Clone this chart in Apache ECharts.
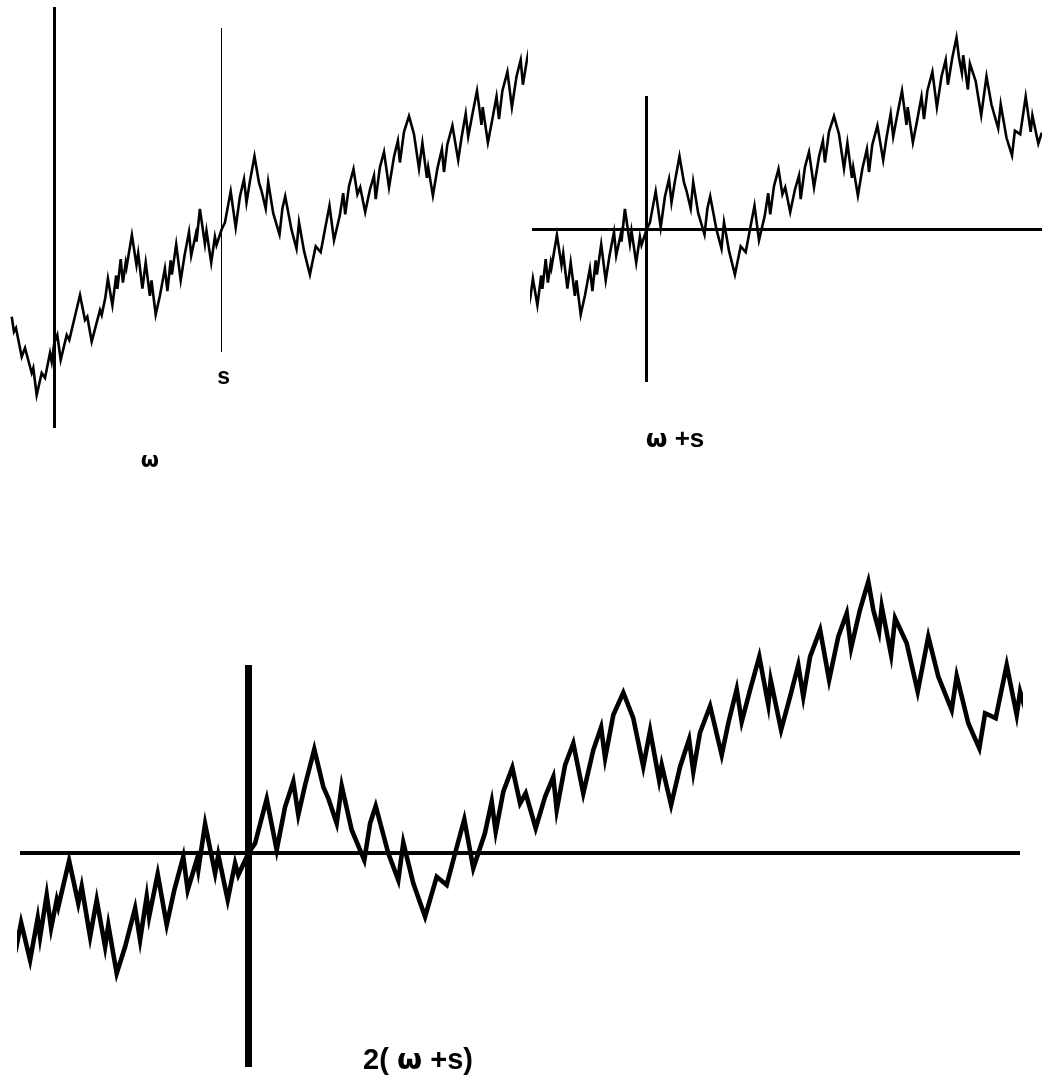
<!DOCTYPE html>
<html>
<head>
<meta charset="utf-8">
<script src="https://cdn.jsdelivr.net/npm/echarts@6/dist/echarts.min.js"></script>
<style>
  html, body { margin: 0; padding: 0; background: #fff; }
  #chart { width: 1042px; height: 1082px; }
</style>
</head>
<body>
<div id="chart"></div>
<script>
// Sample path ω(t): turning points of the zigzag, in time order.
const times = [
  -0.426, -0.403, -0.383, -0.326, -0.293, -0.226, -0.21, -0.176, -0.126, -0.093,
  -0.043, -0.026, 0, 0.03, 0.064, 0.124, 0.15, 0.257, 0.307, 0.33,
  0.374, 0.457, 0.474, 0.51, 0.536, 0.581, 0.619, 0.631, 0.664, 0.686,
  0.714, 0.722, 0.776, 0.822, 0.839, 0.881, 0.914, 0.956, 0.972, 1.014,
  1.056, 1.106, 1.131, 1.164, 1.176, 1.219, 1.264, 1.302, 1.347, 1.369,
  1.414, 1.422, 1.456, 1.506, 1.522, 1.569, 1.606, 1.622, 1.674, 1.706,
  1.764, 1.814, 1.856, 1.897, 1.922, 1.956, 2.002, 2.047, 2.072, 2.114,
  2.139, 2.189, 2.252, 2.281, 2.309, 2.372, 2.422, 2.447, 2.497, 2.556,
  2.614, 2.664, 2.706, 2.752, 2.797, 2.855, 2.889, 2.909, 2.947, 2.992,
  3.031, 3.059, 3.109, 3.156, 3.197, 3.214, 3.256, 3.297, 3.347, 3.397,
  3.436, 3.456, 3.497, 3.547, 3.597, 3.647, 3.681, 3.726, 3.739, 3.786,
  3.831, 3.876, 3.897, 3.93, 3.981, 4.039, 4.072, 4.114, 4.139, 4.181,
  4.227, 4.272, 4.284, 4.336, 4.381, 4.422, 4.447, 4.481, 4.531, 4.576,
  4.622, 4.664, 4.686, 4.73, 4.772, 4.797, 4.826, 4.839, 4.886, 4.906,
  4.964, 5.019, 5.072, 5.122, 5.189, 5.214, 5.272, 5.327, 5.356, 5.409,
  5.464, 5.514, 5.531, 5.59, 5.625
];
const values = [
  0.26, 0.11, 0.147, -0.14, -0.053, -0.303, -0.253, -0.523, -0.303, -0.353,
  -0.103, -0.19, 0, 0.077, -0.173, 0.077, 0.027, 0.477, 0.227, 0.26,
  0.01, 0.327, 0.277, 0.45, 0.64, 0.375, 0.672, 0.538, 0.835, 0.601,
  0.799, 0.752, 1.077, 0.776, 0.894, 0.54, 0.8, 0.469, 0.623, 0.281,
  0.469, 0.741, 0.517, 0.823, 0.681, 0.983, 0.623, 0.87, 1.106, 0.87,
  1.082, 1.012, 1.337, 0.988, 1.118, 0.8, 1.059, 0.976, 1.134, 1.2,
  1.514, 1.153, 1.459, 1.636, 1.401, 1.613, 1.865, 1.6, 1.519, 1.342,
  1.606, 1.295, 1.082, 1.342, 1.464, 1.13, 0.941, 1.205, 0.918, 0.681,
  0.964, 0.906, 1.13, 1.37, 1.024, 1.271, 1.495, 1.283, 1.565, 1.735,
  1.483, 1.554, 1.307, 1.53, 1.671, 1.436, 1.754, 1.908, 1.554, 1.86,
  2.021, 1.802, 2.108, 2.266, 2.085, 1.742, 1.997, 1.648, 1.754, 1.471,
  1.742, 1.936, 1.707, 1.98, 2.171, 1.825, 2.049, 2.29, 2.06, 2.285,
  2.52, 2.179, 2.355, 2.002, 2.237, 2.461, 2.237, 2.52, 2.709, 2.355,
  2.662, 2.827, 2.58, 2.85, 3.051, 2.85, 2.697, 2.874, 2.532, 2.792,
  2.615, 2.273, 2.662, 2.379, 2.143, 2.384, 2.049, 1.872, 2.12, 2.085,
  2.461, 2.108, 2.273, 1.99, 2.1
];

// The shift time s and the level ω(s) the path reaches there.
const S = 1.674;
const wS = values[times.indexOf(S)];

// Caption texts
const captions = ['ω', 'ω +s', '2( ω +s)'];
const sLabel = 's';

const path = times.map((t, i) => [t, values[i]]);

// Axis window for a grid: pixel box, the pixel spot of data point (t0, v0),
// and pixels per unit along each axis.
function frame(left, top, width, height, ox, oy, kx, ky, t0, v0) {
  return {
    grid: { left, top, width, height },
    x: { min: t0 + (left - ox) / kx, max: t0 + (left + width - ox) / kx },
    y: { min: v0 - (top + height - oy) / ky, max: v0 + (oy - top) / ky }
  };
}

const f1 = frame(10, 0, 516, 440, 54.3, 342.7, 100, 100, 0, 0);          // ω
const f2 = frame(532, 0, 510, 440, 646.7, 229.3, 100, 100, S, wS);       // ω + s
const f3 = frame(20, 570, 1000, 510, 248.7, 852.7, 200, 100 * Math.SQRT2, S, wS); // 2(ω + s)
const frames = [f1, f2, f3];

function seg(a, b, width) {
  return [{ coord: a, lineStyle: { width, color: '#000', type: 'solid' } }, { coord: b }];
}

const mlBase = {
  silent: true,
  symbol: ['none', 'none'],
  label: { show: false },
  emphasis: { disabled: true },
  animation: false
};

const latin = '"Liberation Sans", Arial, sans-serif';
const greek = '"DejaVu Sans", sans-serif';

function pathSeries(i, width, lines) {
  return {
    type: 'line', xAxisIndex: i, yAxisIndex: i, data: path,
    showSymbol: false, clip: true, silent: true,
    lineStyle: { color: '#000', width, join: 'miter', miterLimit: 8 },
    markLine: Object.assign({}, mlBase, { data: lines })
  };
}

const option = {
  backgroundColor: '#fff',
  animation: false,
  grid: frames.map(f => Object.assign({ containLabel: false, show: false }, f.grid)),
  xAxis: frames.map((f, i) => ({
    type: 'value', gridIndex: i, min: f.x.min, max: f.x.max,
    show: false, splitLine: { show: false }
  })),
  yAxis: frames.map((f, i) => ({
    type: 'value', gridIndex: i, min: f.y.min, max: f.y.max,
    show: false, splitLine: { show: false }
  })),
  series: [
    pathSeries(0, 2.6, [
      seg([0, -0.853], [0, 3.357], 3),
      seg([-0.443, 0], [4.477, 0], 3),
      seg([S, -0.093], [S, 3.147], 1),
      seg([-0.443, wS], [3.917, wS], 1)
    ]),
    pathSeries(1, 2.6, [
      seg([S, wS - 1.527], [S, wS + 1.333], 3),
      seg([f2.x.min, wS], [f2.x.max, wS], 3)
    ]),
    pathSeries(2, 4.6, [
      seg([S, wS - 1.516], [S, wS + 1.327], 7),
      seg([f3.x.min, wS], [f3.x.max, wS], 4)
    ])
  ]
};

const chart = echarts.init(document.getElementById('chart'));
chart.setOption(option);

// The "s" tick label sits under the time axis at t = s.
const sPos = chart.convertToPixel({ gridIndex: 0 }, [S, 0]);

function txt(size, family) {
  return { fontSize: size, fontWeight: 'bold', fontFamily: family, fill: '#000' };
}

chart.setOption({
  graphic: [
    { type: 'text', x: sPos[0] + 2, y: sPos[1] + 35,
      style: { text: '{t|' + sLabel + '}', align: 'center', verticalAlign: 'middle',
               rich: { t: txt(23, latin) } } },
    { type: 'text', x: 150, y: 462,
      style: Object.assign({ text: captions[0], align: 'center', verticalAlign: 'middle' }, txt(21, greek)) },
    { type: 'text', x: 675, y: 440,
      style: { text: '{w|ω}{t| +s}', align: 'center', verticalAlign: 'middle',
               rich: { w: txt(25, greek), t: txt(26, latin) } } },
    { type: 'text', x: 418, y: 1061,
      style: { text: '{t|2( }{w|ω}{t| +s)}', align: 'center', verticalAlign: 'middle',
               rich: { w: txt(29, greek), t: txt(29, latin) } } }
  ]
});
</script>
</body>
</html>
